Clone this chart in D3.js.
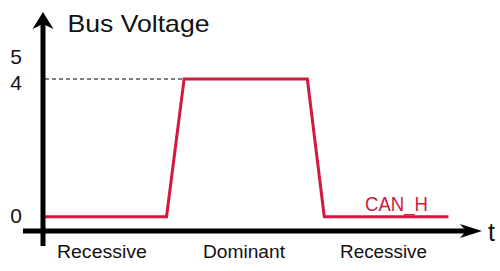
<!DOCTYPE html>
<html><head><meta charset="utf-8">
<script src="https://cdn.jsdelivr.net/npm/d3@7"></script>
<style>html,body{margin:0;padding:0;background:#fff;}svg{display:block;font-family:"Liberation Sans",Arial,sans-serif;}</style>
</head><body>
<script>
// Data
const timePoints = [0, 3.94, 4.5, 8.43, 8.97, 12.93];
const canH = [0, 0, 4, 4, 0, 0];
const yTicks = [0, 4, 5];
const bitLabels = ["Recessive", "Dominant", "Recessive"];
const bitCenters = [1.88, 6.41, 10.86];
const seriesName = "CAN_H";
const yTitle = "Bus Voltage";
const xTitle = "t";

const W = 500, H = 271;
const svg = d3.select("body").append("svg").attr("width", W).attr("height", H);

const x = d3.scaleLinear().domain([0, 14]).range([43, 482]);
const y = d3.scaleLinear().domain([0, 4, 5]).range([216.7, 79, 56.5]);

const red = "#d3173f";

// dashed guide at 4
svg.append("line")
  .attr("x1", x(0) + 2).attr("x2", x(timePoints[2]))
  .attr("y1", y(4)).attr("y2", y(4))
  .attr("stroke", "#000").attr("stroke-width", 1).attr("stroke-dasharray", "4,3");

// series line
const pts = timePoints.map((t, i) => [t, canH[i]]);
svg.append("path")
  .attr("d", d3.line().x(d => x(d[0])).y(d => y(d[1]))(pts))
  .attr("fill", "none").attr("stroke", red).attr("stroke-width", 3)
  .attr("stroke-linejoin", "miter");

// axes lines
const xAxisY = 231;
svg.append("line").attr("x1", 23).attr("x2", x(14) - 12).attr("y1", xAxisY).attr("y2", xAxisY)
  .attr("stroke", "#000").attr("stroke-width", 5);
svg.append("line").attr("x1", x(0)).attr("x2", x(0)).attr("y1", 246).attr("y2", 24)
  .attr("stroke", "#000").attr("stroke-width", 5);
// arrowheads
const tipX = x(14);
svg.append("path")
  .attr("d", `M${tipX},${xAxisY} L${tipX-22},${xAxisY-7} L${tipX-16},${xAxisY} L${tipX-22},${xAxisY+7} Z`)
  .attr("fill", "#000");
const ax = x(0), tipY = 12;
svg.append("path")
  .attr("d", `M${ax},${tipY} L${ax+10.5},${tipY+17} L${ax},${tipY+12} L${ax-10.5},${tipY+17} Z`)
  .attr("fill", "#000");

// y tick labels via axis
const yAxis = d3.axisLeft(y).tickValues(yTicks).tickSize(0).tickPadding(21).tickFormat(d3.format("d"));
const yg = svg.append("g").attr("transform", `translate(${x(0)},0)`).call(yAxis);
yg.select(".domain").remove();
const labelShift = {0: -1.5, 4: 3, 5: -1};
yg.selectAll("text").attr("font-size", 21).attr("fill", "#111")
  .attr("font-family", "Liberation Sans, Arial, sans-serif")
  .attr("dy", "0.36em")
  .attr("y", d => labelShift[d]);

// titles
svg.append("text").attr("x", 67.5).attr("y", 31.5).attr("font-size", 24).attr("fill", "#111")
  .attr("textLength", 142).attr("lengthAdjust", "spacingAndGlyphs").text(yTitle);
svg.append("text").attr("x", 488).attr("y", 241).attr("font-size", 25).attr("fill", "#111").text(xTitle);

// series label
svg.append("text").attr("x", 365).attr("y", 210.5).attr("font-size", 20).attr("fill", red)
  .attr("textLength", 63).attr("lengthAdjust", "spacingAndGlyphs").text(seriesName);

// bit labels
const widths = [90, 82, 87];
svg.selectAll("text.bit").data(bitLabels).join("text").attr("class", "bit")
  .attr("x", (d, i) => x(bitCenters[i]) - widths[i] / 2).attr("y", 257.5)
  .attr("font-size", 17.5).attr("fill", "#111")
  .attr("textLength", (d, i) => widths[i]).attr("lengthAdjust", "spacingAndGlyphs")
  .text(d => d);
</script>
</body></html>
